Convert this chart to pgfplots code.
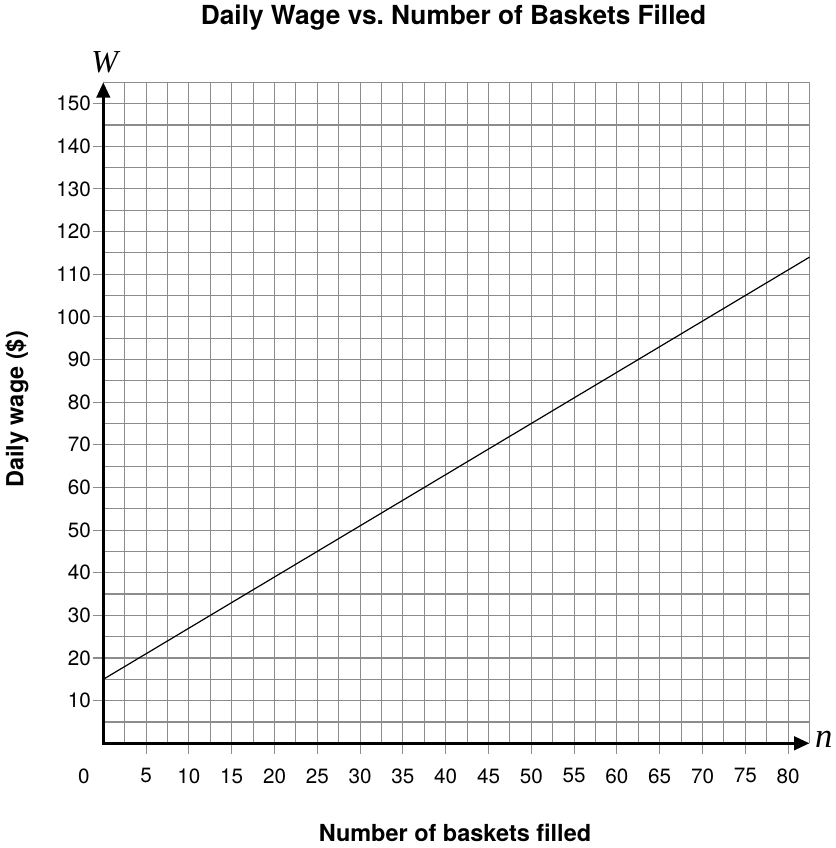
\documentclass[border=0pt]{standalone}
\usepackage{pgfplots}
\pgfplotsset{compat=1.18}
\usepackage{fontspec}
\setmainfont{TeX Gyre Heros}
\newfontfamily\serifit{Liberation Serif}
\usetikzlibrary{arrows.meta}
\definecolor{gridgray}{RGB}{140,140,140}
\begin{document}
\begin{tikzpicture}
\useasboundingbox (-77.475pt,-78.525pt) rectangle (548.775pt,557.475pt);
\begin{axis}[
  scale only axis,
  width=529.65pt, height=495.75pt,
  xmin=0, xmax=82.5, ymin=0, ymax=155,
  axis line style={draw=none},
  xtick={5,10,...,80},
  ytick={10,20,...,150},
  minor xtick={2.5,7.5,...,82.5},
  minor ytick={5,15,...,155},
  grid=both,
  grid style={gridgray, line width=0.85pt},
  minor grid style={gridgray, line width=0.85pt},
  major grid style={gridgray, line width=0.85pt},
  tick align=outside,
  major tick length=8pt,
  minor tick length=0pt,
  xtick pos=bottom, ytick pos=left,
  tick style={gridgray, line width=0.85pt},
  /pgf/number format/assume math mode=true,
  ticklabel style={font=\fontsize{15.5}{18}\selectfont},
  xticklabel style={inner sep=0pt, anchor=north, yshift=-10.75pt},
  yticklabel style={inner sep=0pt, anchor=east, xshift=-1.2pt},
  title={\fontsize{19.7}{23}\selectfont\bfseries Daily Wage vs.\ Number of Baskets Filled},
  title style={at={(rel axis cs:0.496,1)}, anchor=base, yshift=37.7pt, inner sep=0pt},
  xlabel={\fontsize{17.6}{20}\selectfont\bfseries Number of baskets filled},
  xlabel style={at={(rel axis cs:0.498,0)}, anchor=base, yshift=-73.8pt, inner sep=0pt},
  ylabel={\fontsize{17.6}{20}\selectfont\bfseries Daily wage (\$)},
  ylabel style={at={([xshift=-60pt]rel axis cs:0,0.505)}, anchor=base, inner sep=0pt},
  clip=false,
]
\addplot[black, line width=0.9pt] coordinates {(0,15) (82.5,114)};
\draw[line width=2.3pt, {Triangle[length=11.5pt,width=10pt]}-{Triangle[length=11.5pt,width=10pt]}]
  (axis cs:0,155) -- (axis cs:0,0) -- (axis cs:82.5,0);
\node[anchor=north, inner sep=0pt, font=\fontsize{15.5}{18}\selectfont] at ([xshift=-14.5pt,yshift=-18.75pt]axis cs:0,0) {0};
\node[anchor=base, inner sep=0pt, font=\fontsize{24}{28}\selectfont] at ([xshift=1pt,yshift=7.5pt]axis cs:0,155) {\serifit\itshape W};
\node[anchor=base west, inner sep=0pt, font=\fontsize{26}{30}\selectfont] at ([xshift=4pt,yshift=-2.8pt]axis cs:82.5,0) {\serifit\itshape n};
\end{axis}
\end{tikzpicture}
\end{document}
